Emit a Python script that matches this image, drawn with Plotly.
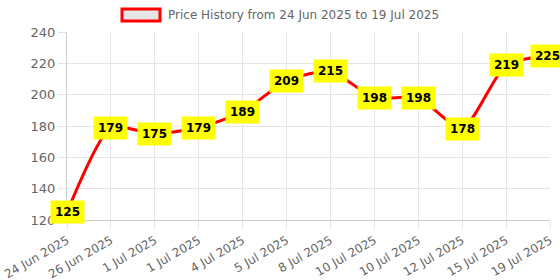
import plotly.graph_objects as go

dates = ["24 Jun 2025", "26 Jun 2025", "1 Jul 2025", "1 Jul 2025", "4 Jul 2025",
         "5 Jul 2025", "8 Jul 2025", "10 Jul 2025", "10 Jul 2025", "12 Jul 2025",
         "15 Jul 2025", "19 Jul 2025"]
prices = [125, 179, 175, 179, 189, 209, 215, 198, 198, 178, 219, 225]
series_name = "Price History from 24 Jun 2025 to 19 Jul 2025"

idx = list(range(len(dates)))
FONT = "DejaVu Sans"

fig = go.Figure()
fig.add_trace(go.Scatter(
    x=idx, y=prices, mode="lines",
    line=dict(color="#ff0000", width=3, shape="spline", smoothing=0.6),
    showlegend=False, hoverinfo="skip",
))

for xi, v in zip(idx, prices):
    fig.add_annotation(
        x=xi, y=v, xref="x", yref="y", text="<b>%d</b>" % v, showarrow=False,
        font=dict(family=FONT, size=12, color="#000000"),
        bgcolor="#ffff00", borderpad=4,
        xshift=(-3 if xi == idx[-1] else 0),
    )

# legend box (Chart.js style); paper coords relative to plot area (483 x 188 px)
fig.add_shape(type="rect", xref="paper", yref="paper",
              x0=(122 - 67) / 483, x1=(160 - 67) / 483,
              y0=(220 - 21) / 188, y1=(220 - 9) / 188,
              line=dict(color="#ff0000", width=3), fillcolor="#e6e6e6")
fig.add_annotation(xref="paper", yref="paper", x=(166 - 67) / 483, y=(220 - 15) / 188,
                   xanchor="left", yanchor="middle", showarrow=False, text=series_name,
                   font=dict(family=FONT, size=12, color="#666666"))

fig.update_layout(
    width=560, height=280,
    margin=dict(l=67, r=10, t=32, b=60),
    paper_bgcolor="white", plot_bgcolor="white",
    font=dict(family=FONT, size=12, color="#666666"),
    showlegend=False, hovermode=False,
)
fig.update_xaxes(
    range=[0, 11], tickmode="array", tickvals=idx, ticktext=dates, tickangle=-30,
    automargin=False, ticklabeloverflow="allow",
    showgrid=True, gridcolor="#e5e5e5", gridwidth=1,
    ticks="outside", ticklen=8, tickcolor="#e5e5e5",
    showline=True, linecolor="#cccccc", linewidth=1, zeroline=False,
    tickfont=dict(family=FONT, size=12, color="#666666"),
)
fig.update_yaxes(
    range=[120, 240], dtick=20, automargin=False,
    showgrid=True, gridcolor="#e5e5e5", gridwidth=1,
    ticks="outside", ticklen=8, tickcolor="#e5e5e5",
    showline=True, linecolor="#cccccc", linewidth=1, zeroline=False,
    tickfont=dict(family=FONT, size=13, color="#666666"),
)

fig.write_html(
    "out.html",
    config={"displayModeBar": False},
    post_script="document.body.style.margin='0';document.body.style.overflow='hidden';",
)
